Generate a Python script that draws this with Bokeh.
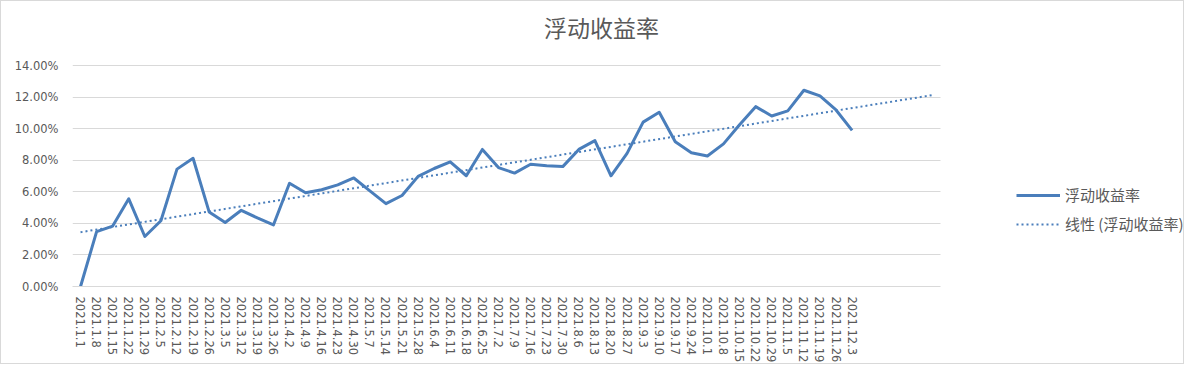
import numpy as np
from bokeh.plotting import figure
from bokeh.models import (Range1d, FixedTicker, NumeralTickFormatter, Legend, LegendItem, Label)
from bokeh.embed import file_html
from bokeh.resources import INLINE

title_text = "浮动收益率"
series_name = "浮动收益率"
trend_name = "线性 (浮动收益率)"

dates = ["2021.1.1", "2021.1.8", "2021.1.15", "2021.1.22", "2021.1.29", "2021.2.5", "2021.2.12",
         "2021.2.19", "2021.2.26", "2021.3.5", "2021.3.12", "2021.3.19", "2021.3.26", "2021.4.2",
         "2021.4.9", "2021.4.16", "2021.4.23", "2021.4.30", "2021.5.7", "2021.5.14", "2021.5.21",
         "2021.5.28", "2021.6.4", "2021.6.11", "2021.6.18", "2021.6.25", "2021.7.2", "2021.7.9",
         "2021.7.16", "2021.7.23", "2021.7.30", "2021.8.6", "2021.8.13", "2021.8.20", "2021.8.27",
         "2021.9.3", "2021.9.10", "2021.9.17", "2021.9.24", "2021.10.1", "2021.10.8", "2021.10.15",
         "2021.10.22", "2021.10.29", "2021.11.5", "2021.11.12", "2021.11.19", "2021.11.26", "2021.12.3"]

rates = [0.0000, 0.0348, 0.0383, 0.0556, 0.0317, 0.0417, 0.0744, 0.0813, 0.0473, 0.0406,
         0.0483, 0.0435, 0.0390, 0.0654, 0.0594, 0.0613, 0.0644, 0.0688, 0.0606, 0.0525,
         0.0577, 0.0698, 0.0748, 0.0790, 0.0702, 0.0869, 0.0754, 0.0719, 0.0775, 0.0765,
         0.0760, 0.0869, 0.0925, 0.0702, 0.0844, 0.1042, 0.1104, 0.0917, 0.0848, 0.0827,
         0.0904, 0.1025, 0.1140, 0.1081, 0.1113, 0.1244, 0.1208, 0.1119, 0.0990]

n_slots = 54          # category slots on the axis (last ones empty)
y_ticks = [0.0, 0.02, 0.04, 0.06, 0.08, 0.10, 0.12, 0.14]
y_max = 0.14

x = list(range(len(rates)))
coef = np.polyfit(x, rates, 1)
trend_x = [0, n_slots - 1]
trend_y = [float(np.polyval(coef, t)) for t in trend_x]

BLUE = "#4A7EBB"
GREY_TXT = "#595959"
GRID = "#D9D9D9"

# layout (pixels)
W, H = 1184, 364
PLOT_L, PLOT_R, PLOT_T, PLOT_B = 71, 939, 65, 289     # visible plot area
FRAME_T, FRAME_R = 4, W - 2                             # frame extended so legend/title are inside
px_per_slot = (PLOT_R - PLOT_L) / n_slots
x_end = -0.5 + (FRAME_R - PLOT_L) / px_per_slot
y_end = y_max * (PLOT_B - FRAME_T) / (PLOT_B - PLOT_T)

p = figure(width=W, height=H, output_backend="svg", toolbar_location=None,
           x_range=Range1d(-0.5, x_end), y_range=Range1d(0, y_end),
           min_border_left=PLOT_L, min_border_right=W - FRAME_R,
           min_border_top=FRAME_T, min_border_bottom=H - PLOT_B)

p.outline_line_color = None
p.background_fill_color = "white"
p.border_fill_color = "white"

r_trend = p.line(trend_x, trend_y, line_color=BLUE, line_width=2, line_dash="2 3")
r_main = p.line(x, rates, line_color=BLUE, line_width=3, line_join="round")

p.xgrid.visible = False
p.ygrid.grid_line_color = GRID
p.ygrid.grid_line_width = 1
p.ygrid.bounds = (0, y_max)
try:
    p.ygrid.cross_bounds = (-0.5, n_slots - 0.5)
except Exception:
    p.ygrid.visible = False
    p.segment(x0=[-0.5] * len(y_ticks), x1=[n_slots - 0.5] * len(y_ticks),
              y0=y_ticks, y1=y_ticks, line_color=GRID, line_width=1, level="underlay")

xa = p.xaxis[0]
xa.ticker = FixedTicker(ticks=x)
xa.bounds = (-0.5, n_slots - 0.5)
xa.major_label_overrides = {i: d for i, d in enumerate(dates)}
xa.major_label_orientation = -np.pi / 2
xa.major_label_text_font = "DejaVu Sans"
xa.major_label_text_font_size = "11.5px"
xa.major_label_text_color = GREY_TXT
xa.major_label_standoff = 10
xa.axis_line_color = GRID
xa.major_tick_line_color = None
xa.minor_tick_line_color = None
xa.major_tick_out = 0

ya = p.yaxis[0]
ya.ticker = FixedTicker(ticks=y_ticks)
ya.bounds = (0, y_max)
ya.formatter = NumeralTickFormatter(format="0.00%")
ya.major_label_text_font = "DejaVu Sans"
ya.major_label_text_font_size = "11.5px"
ya.major_label_text_color = GREY_TXT
ya.major_label_standoff = 14
ya.axis_line_color = None
ya.major_tick_line_color = None
ya.minor_tick_line_color = None
ya.major_tick_out = 0

title = Label(x=600 - PLOT_L, y=PLOT_B - 29, x_units="screen", y_units="screen",
              text=title_text, text_align="center", text_baseline="middle",
              text_font="Noto Sans CJK SC", text_font_size="23px", text_color=GREY_TXT)
p.add_layout(title)

legend = Legend(items=[LegendItem(label=series_name, renderers=[r_main]),
                       LegendItem(label=trend_name, renderers=[r_trend])],
                location=(1015 - PLOT_L, PLOT_B - 237), padding=0, margin=0, spacing=8,
                glyph_width=44, glyph_height=20, label_height=20, label_standoff=5,
                label_text_font="Noto Sans CJK SC", label_text_font_size="15px",
                label_text_color=GREY_TXT, border_line_color=None,
                background_fill_alpha=0)
p.add_layout(legend, "center")

p.styles = {"border": "1px solid #D9D9D9"}

open("out.html", "w").write(file_html(p, INLINE))
